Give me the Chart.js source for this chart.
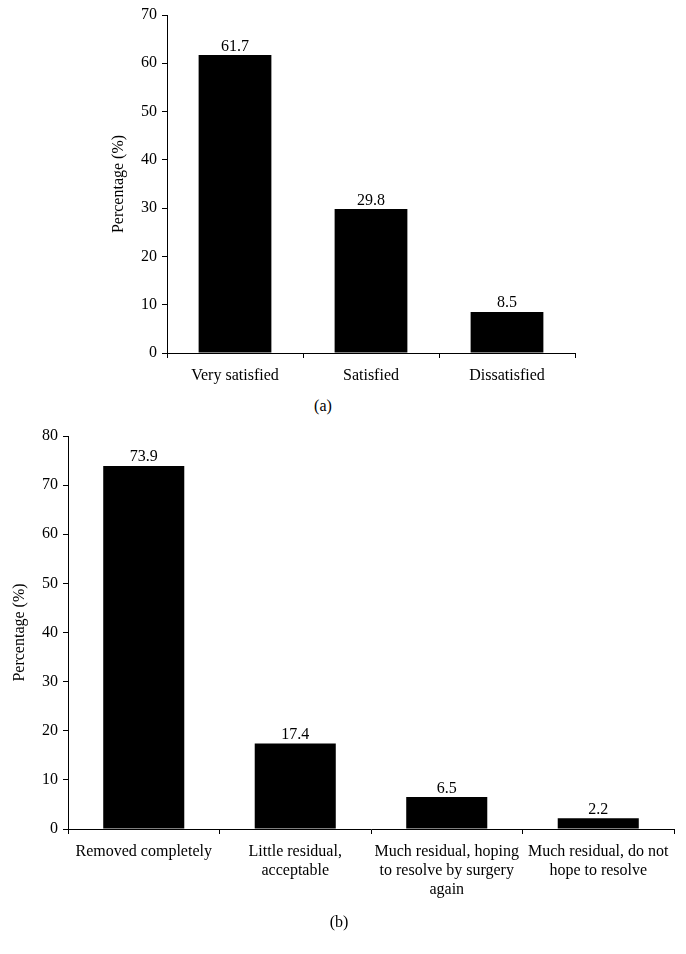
<!DOCTYPE html>
<html>
<head>
<meta charset="utf-8">
<script src="https://cdn.jsdelivr.net/npm/chart.js@4"></script>
<style>
  html, body { margin: 0; padding: 0; background: #fff; }
  body { width: 686px; height: 954px; position: relative; overflow: hidden; font-family: "Liberation Serif", "DejaVu Serif", serif; }
  .wrap { position: absolute; left: 0; }
  .cap { position: absolute; font-size: 16px; color: #000; transform: translate(-50%, -50%); white-space: nowrap; }
</style>
</head>
<body>
<div class="wrap" style="top:0; width:686px; height:390px;"><canvas id="ca"></canvas></div>
<div class="wrap" style="top:420px; width:686px; height:500px;"><canvas id="cb"></canvas></div>
<div class="cap" style="left:323px; top:406px;">(a)</div>
<div class="cap" style="left:339px; top:922px;">(b)</div>
<script>
// ---- data ----
const categoriesA = ['Very satisfied', 'Satisfied', 'Dissatisfied'];
const valuesA = [61.7, 29.8, 8.5];
const yTicksA = [0, 10, 20, 30, 40, 50, 60, 70];

const categoriesB = [
  ['Removed completely'],
  ['Little residual,', 'acceptable'],
  ['Much residual, hoping', 'to resolve by surgery', 'again'],
  ['Much residual, do not', 'hope to resolve']
];
const valuesB = [73.9, 17.4, 6.5, 2.2];
const yTicksB = [0, 10, 20, 30, 40, 50, 60, 70, 80];

const yTitle = 'Percentage (%)';
const FONT = '"Liberation Serif", "DejaVu Serif", serif';

const valueLabels = {
  id: 'valueLabels',
  afterDatasetsDraw(chart) {
    const ctx = chart.ctx;
    const meta = chart.getDatasetMeta(0);
    const data = chart.data.datasets[0].data;
    ctx.save();
    ctx.font = '16px ' + FONT;
    ctx.fillStyle = '#000';
    ctx.textAlign = 'center';
    ctx.textBaseline = 'alphabetic';
    meta.data.forEach((bar, i) => {
      ctx.fillText(data[i].toFixed(1), bar.x, bar.y - 4.5);
    });
    ctx.restore();
  }
};

function makeChart(id, labels, values, ticks, pad, xHeight) {
  const max = ticks[ticks.length - 1];
  return new Chart(document.getElementById(id), {
    type: 'bar',
    data: {
      labels: labels,
      datasets: [{
        data: values,
        backgroundColor: '#000',
        borderColor: '#222',
        borderWidth: 0,
        barPercentage: 0.535,
        categoryPercentage: 1.0
      }]
    },
    options: {
      responsive: true,
      maintainAspectRatio: false,
      animation: false,
      layout: { padding: pad },
      plugins: { legend: { display: false }, tooltip: { enabled: false } },
      scales: {
        x: {
          offset: true,
          grid: { display: true, drawOnChartArea: false, drawTicks: true, tickLength: 5, color: '#000', offset: true },
          border: { display: true, color: '#000', width: 1 },
          ticks: { color: '#000', font: { family: FONT, size: 16 }, padding: 8, maxRotation: 0, autoSkip: false },
          afterFit(scale) { scale.height = xHeight; }
        },
        y: {
          min: 0,
          max: max,
          afterBuildTicks(scale) { scale.ticks = ticks.map(v => ({ value: v })); },
          grid: { display: true, drawOnChartArea: false, drawTicks: true, tickLength: 5, color: '#000' },
          border: { display: true, color: '#000', width: 1 },
          ticks: { color: '#000', font: { family: FONT, size: 16 }, padding: 5 },
          title: { display: true, text: yTitle, color: '#000', font: { family: FONT, size: 16 }, padding: { top: 4, bottom: 4 } },
          afterFit(scale) { scale.width = 62; }
        }
      }
    },
    plugins: [valueLabels]
  });
}

makeChart('ca', categoriesA, valuesA, yTicksA, { left: 105, right: 111, top: 15, bottom: 0 }, 37);
makeChart('cb', categoriesB, valuesB, yTicksB, { left: 6, right: 12, top: 16, bottom: 0 }, 91);
</script>
</body>
</html>
